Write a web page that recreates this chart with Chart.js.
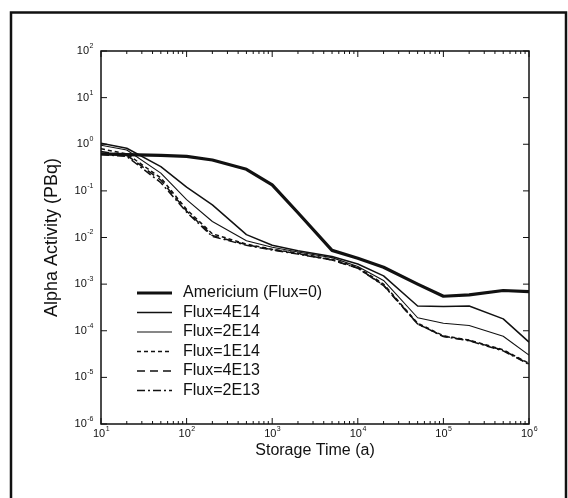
<!DOCTYPE html>
<html>
<head>
<meta charset="utf-8">
<title>Alpha activity vs storage time</title>
<script src="https://cdn.jsdelivr.net/npm/chart.js@4.4.1/dist/chart.umd.min.js"></script>
<style>
  html, body { margin: 0; background: #fff; }
  #wrap { width: 568px; height: 498px; position: relative; }
</style>
</head>
<body>
<div id="wrap"><canvas id="alphaChart"></canvas></div>
<script>
// storage times (a)
const years = [10, 20, 50, 100, 200, 500, 1e3, 2e3, 5e3, 1e4, 2e4, 5e4, 1e5, 2e5, 5e5, 1e6];

// alpha activity (PBq) for each case
const americium = [0.62, 0.60, 0.58, 0.55, 0.46, 0.29, 0.135, 0.034, 5.3e-3, 3.6e-3, 2.3e-3, 1.0e-3, 5.5e-4, 5.9e-4, 7.3e-4, 6.9e-4];
const flux4e14 = [1.05, 0.82, 0.33, 0.12, 0.05, 0.0115, 6.8e-3, 5.2e-3, 3.9e-3, 2.7e-3, 1.5e-3, 3.4e-4, 3.3e-4, 3.4e-4, 1.8e-4, 5.7e-5];
const flux2e14 = [0.95, 0.75, 0.24, 0.065, 0.022, 8.5e-3, 6.2e-3, 4.9e-3, 3.7e-3, 2.4e-3, 1.2e-3, 1.9e-4, 1.45e-4, 1.3e-4, 7.6e-5, 3.0e-5];
const flux1e14 = [0.8, 0.62, 0.19, 0.04, 0.012, 7.2e-3, 5.6e-3, 4.6e-3, 3.4e-3, 2.3e-3, 1.0e-3, 1.45e-4, 7.8e-5, 6.3e-5, 3.9e-5, 2.0e-5];
const flux4e13 = [0.7, 0.58, 0.17, 0.037, 0.011, 7.0e-3, 5.5e-3, 4.5e-3, 3.3e-3, 2.2e-3, 9.5e-4, 1.4e-4, 7.6e-5, 6.2e-5, 3.8e-5, 1.95e-5];
const flux2e13 = [0.6, 0.55, 0.15, 0.035, 0.0105, 6.8e-3, 5.4e-3, 4.4e-3, 3.3e-3, 2.2e-3, 9.3e-4, 1.4e-4, 7.5e-5, 6.1e-5, 3.7e-5, 1.9e-5];

// decade exponents used for the tick labels
const xTickExponents = [1, 2, 3, 4, 5, 6];
const yTickExponents = [-6, -5, -4, -3, -2, -1, 0, 1, 2];

const INK = '#111';
const FONT = '"Liberation Sans", Arial, sans-serif';

const toPoints = vals => vals.map((v, i) => ({ x: years[i], y: v }));

function line(label, vals, width, dash) {
  return {
    label: label,
    data: toPoints(vals),
    borderColor: INK,
    borderWidth: width,
    borderDash: dash,
    pointRadius: 0,
    tension: 0,
    fill: false,
    borderJoinStyle: 'round'
  };
}

// draws "10" with a small raised exponent
function powerLabel(ctx, exp, x, y, align) {
  ctx.font = '11px ' + FONT;
  const bw = ctx.measureText('10').width;
  ctx.font = '7px ' + FONT;
  const sup = String(exp);
  const sw = ctx.measureText(sup).width;
  let left = x - bw - sw;           // right aligned
  if (align === 'center') left = x - (bw + sw) / 2;
  ctx.textBaseline = 'middle';
  ctx.textAlign = 'left';
  ctx.font = '11px ' + FONT;
  ctx.fillText('10', left, y);
  ctx.font = '7px ' + FONT;
  ctx.fillText(sup, left + bw + 0.5, y - 5);
}

const framePlugin = {
  id: 'framePlugin',
  afterDraw(chart) {
    const { ctx, chartArea: a, scales: { x, y } } = chart;
    ctx.save();
    ctx.strokeStyle = INK;
    ctx.fillStyle = INK;
    ctx.setLineDash([]);

    // outer page frame
    ctx.lineWidth = 2.5;
    ctx.beginPath();
    ctx.moveTo(11, 498);
    ctx.lineTo(11, 12.5);
    ctx.lineTo(566, 12.5);
    ctx.lineTo(566, 498);
    ctx.stroke();

    // axes box
    ctx.lineWidth = 1.5;
    ctx.strokeRect(a.left, a.top, a.right - a.left, a.bottom - a.top);

    // x ticks, pointing inward on bottom and top
    ctx.lineWidth = 1;
    for (let e = 1; e <= 6; e++) {
      for (let m = 1; m <= 9; m++) {
        const v = m * Math.pow(10, e);
        if (v > 1e6) break;
        const px = x.getPixelForValue(v);
        const len = m === 1 ? 6 : 3;
        ctx.beginPath();
        ctx.moveTo(px, a.bottom); ctx.lineTo(px, a.bottom - len);
        ctx.moveTo(px, a.top); ctx.lineTo(px, a.top + len);
        ctx.stroke();
      }
    }
    // y ticks at each decade
    yTickExponents.forEach(e => {
      const py = y.getPixelForValue(Math.pow(10, e));
      ctx.beginPath();
      ctx.moveTo(a.left, py); ctx.lineTo(a.left + 6, py);
      ctx.moveTo(a.right, py); ctx.lineTo(a.right - 6, py);
      ctx.stroke();
    });

    // tick labels
    xTickExponents.forEach(e => {
      powerLabel(ctx, e, x.getPixelForValue(Math.pow(10, e)), a.bottom + 10, 'center');
    });
    yTickExponents.forEach(e => {
      powerLabel(ctx, e, a.left - 8, y.getPixelForValue(Math.pow(10, e)), 'right');
    });

    // legend inside the plot, lower left
    const rowTop = 293, rowGap = 19.5;
    chart.data.datasets.forEach((ds, i) => {
      const ry = rowTop + i * rowGap;
      ctx.lineWidth = ds.borderWidth;
      ctx.setLineDash(ds.borderDash || []);
      ctx.beginPath();
      ctx.moveTo(137, ry);
      ctx.lineTo(172, ry);
      ctx.stroke();
      ctx.setLineDash([]);
      ctx.font = '16px ' + FONT;
      ctx.textAlign = 'left';
      ctx.textBaseline = 'middle';
      ctx.fillText(ds.label, 183, ry);
    });
    ctx.restore();
  }
};

new Chart(document.getElementById('alphaChart').getContext('2d'), {
  type: 'line',
  data: {
    datasets: [
      line('Americium (Flux=0)', americium, 3.2, []),
      line('Flux=4E14', flux4e14, 1.5, []),
      line('Flux=2E14', flux2e14, 1.1, []),
      line('Flux=1E14', flux1e14, 1.5, [4, 3]),
      line('Flux=4E13', flux4e13, 1.5, [8, 5]),
      line('Flux=2E13', flux2e13, 1.5, [8, 3, 2, 3])
    ]
  },
  options: {
    responsive: true,
    maintainAspectRatio: false,
    animation: false,
    layout: { padding: { left: 30, top: 51, right: 39, bottom: 37.4 } },
    plugins: {
      legend: { display: false },
      tooltip: { enabled: false }
    },
    scales: {
      x: {
        type: 'logarithmic',
        min: 10,
        max: 1e6,
        grid: { display: false, drawTicks: false },
        border: { display: false },
        ticks: { display: false },
        title: {
          display: true,
          text: 'Storage Time (a)',
          color: INK,
          font: { family: FONT, size: 16 },
          padding: { top: 17.4, bottom: 0 }
        }
      },
      y: {
        type: 'logarithmic',
        min: 1e-6,
        max: 1e2,
        grid: { display: false, drawTicks: false },
        border: { display: false },
        ticks: { display: false },
        title: {
          display: true,
          text: 'Alpha Activity (PBq)',
          color: INK,
          font: { family: FONT, size: 18 },
          padding: { top: 11.2, bottom: 38.2 }
        }
      }
    }
  },
  plugins: [framePlugin]
});
</script>
</body>
</html>
